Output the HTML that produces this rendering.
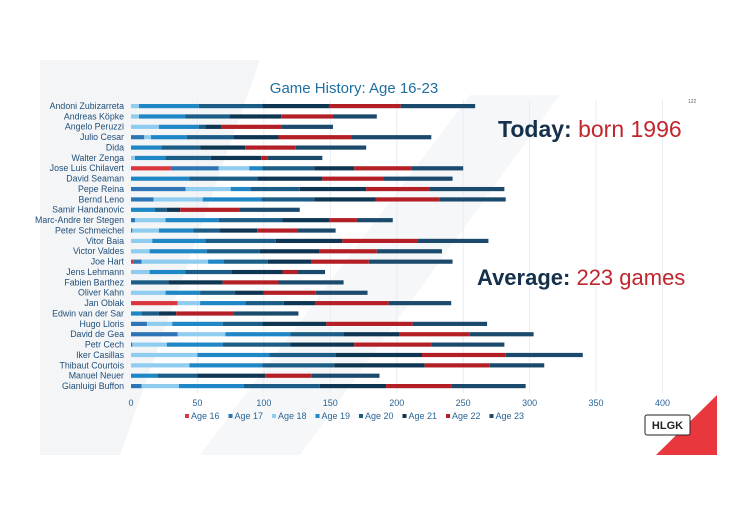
<!DOCTYPE html>
<html><head><meta charset="utf-8"><style>
body{margin:0;background:#fff;width:730px;height:517px;overflow:hidden;font-family:"Liberation Sans",sans-serif}
</style></head><body>
<svg id="c" width="730" height="517" xmlns="http://www.w3.org/2000/svg">
<polygon points="40,455 40,60 260,60 120,455" fill="#f4f5f7"/>
<polygon points="200,455 470,95 560,95 300,455" fill="#f6f7f9"/>
<text x="354" y="93" text-anchor="middle" font-size="15" fill="#1f6fa0">Game History: Age 16-23</text>
<text x="688" y="103" font-size="5" fill="#666">122</text>
<g id="grid"></g><g id="bars"></g><g id="labels"></g><g id="ticks"></g><g id="legend"></g>
<text x="498" y="137" font-size="23"><tspan font-weight="bold" fill="#14304a">Today:</tspan><tspan fill="#c0262d"> born 1996</tspan></text>
<text x="477" y="285" font-size="22"><tspan font-weight="bold" fill="#14304a">Average:</tspan><tspan fill="#c0262d"> 223 games</tspan></text>
<polygon points="656,455 717,395 717,455" fill="#e8383d"/>
<rect x="645" y="415" width="45" height="20" rx="2" fill="#fff" stroke="#222" stroke-width="1"/>
<text x="667.5" y="429" text-anchor="middle" font-size="11" font-weight="bold" fill="#222">HLGK</text>
</svg>
<script>
const players=["Andoni Zubizarreta","Andreas Köpke","Angelo Peruzzi","Julio Cesar","Dida","Walter Zenga","Jose Luis Chilavert","David Seaman","Pepe Reina","Bernd Leno","Samir Handanovic","Marc-Andre ter Stegen","Peter Schmeichel","Vitor Baia","Victor Valdes","Joe Hart","Jens Lehmann","Fabien Barthez","Oliver Kahn","Jan Oblak","Edwin van der Sar","Hugo Lloris","David de Gea","Petr Cech","Iker Casillas","Thibaut Courtois","Manuel Neuer","Gianluigi Buffon"];
const seriesNames=["Age 16","Age 17","Age 18","Age 19","Age 20","Age 21","Age 22","Age 23"];
const age16=[0,0,0,0,0,0,30,0,0,0,0,0,0,0,0,2,0,0,0,35,0,0,0,0,0,0,0,0];
const age17=[0,0,0,10,0,0,36,0,41,17,0,3,1,0,0,6,0,0,0,0,0,12,35,1,0,0,0,8];
const age18=[6,6,21,5,0,3,23,0,34,37,0,23,20,16,14,50,14,0,26,17,0,19,36,26,50,44,0,28];
const age19=[45,35,30,27,23,23,10,44,15,44,18,40,26,40,43,12,27,0,26,34,8,38,49,42,54,55,20,49];
const age20=[48,33,5,35,29,34,39,51,37,40,9,48,20,53,40,33,35,28,26,29,13,30,40,51,50,54,30,57];
const age21=[50,39,12,34,34,38,30,49,50,46,10,35,28,50,45,33,38,41,22,24,13,48,42,48,65,68,51,50];
const age22=[54,39,45,55,38,5,43,46,48,48,45,21,30,57,43,43,11,42,39,55,43,65,53,58,63,49,35,49];
const age23=[56,33,39,60,53,41,39,52,56,50,45,27,29,53,49,63,21,49,39,47,49,56,48,55,58,41,51,56];
const xTicks=[0,50,100,150,200,250,300,350,400];
const colors=["#d9363e","#2e75b6","#8fcdf0","#1f87c6","#1b5d86","#0e3653","#b41e25","#1c4a6c"];
const NS="http://www.w3.org/2000/svg";
const x=v=>131+v*(531.5/400);
const y=i=>106+i*(280/27);
function mk(t,a,p){const e=document.createElementNS(NS,t);for(const k in a)e.setAttribute(k,a[k]);p.appendChild(e);return e;}
const grid=document.getElementById('grid'),bars=document.getElementById('bars'),labels=document.getElementById('labels'),ticks=document.getElementById('ticks'),legend=document.getElementById('legend');
xTicks.forEach(t=>{
 if(t>0){const l=mk('line',{x1:x(t),x2:x(t),y1:100,y2:393,stroke:'#e6edf4','stroke-width':1},grid);
 
 }
 const tx=mk('text',{x:x(t),y:406,'text-anchor':'middle','font-size':9,fill:'#2a6496'},ticks);tx.textContent=t;
 
 
});
const series=[age16,age17,age18,age19,age20,age21,age22,age23];
players.forEach((p,i)=>{
 const lb=mk('text',{x:124,y:y(i)+3,'text-anchor':'end','font-size':8.8,fill:'#1f4e79'},labels);lb.textContent=p;
 
 
 let acc=0;
 series.forEach((s,k)=>{const v=s[i];if(v>0){
  const r=mk('rect',{x:x(acc),y:y(i)-2,width:x(acc+v)-x(acc),height:4.2,fill:colors[k]},bars);
  
  
 }acc+=v;});
});
let lx=185;
seriesNames.forEach((n,k)=>{
 const r=mk('rect',{x:lx,y:414,width:4,height:4,fill:colors[k]},legend);
 
 
 const t=mk('text',{x:lx+6,y:419,'font-size':9,fill:'#2a6496'},legend);t.textContent=n;
 
 
 lx+=43.5;
});
</script>
</body></html>
